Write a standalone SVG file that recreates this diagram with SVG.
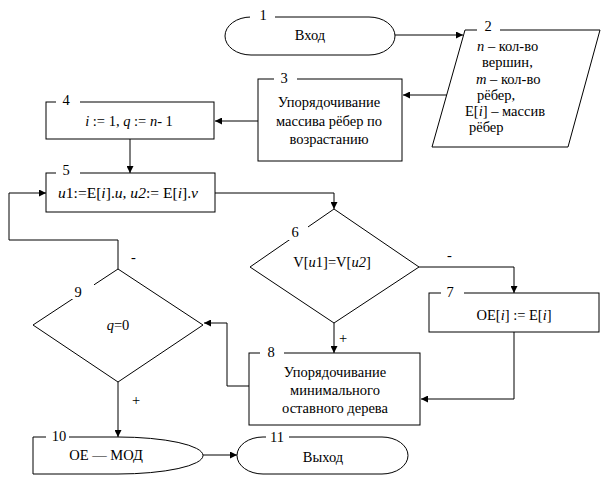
<svg xmlns="http://www.w3.org/2000/svg" width="613" height="491" viewBox="0 0 613 491" font-family="'Liberation Serif', 'Times New Roman', serif" font-size="14.5">
<style>
.s{fill:#fff;stroke:#000;stroke-width:1}
.c{fill:none;stroke:#000;stroke-width:1}
text{fill:#000}
.m{text-anchor:middle}
.bg{fill:#fff;stroke:none}
</style>
<defs>
<marker id="a" viewBox="0 0 10 10" refX="10" refY="5" markerWidth="9" markerHeight="7" markerUnits="userSpaceOnUse" orient="auto"><path d="M0,0L10,5L0,10z" fill="#000"/></marker>
</defs>
<rect width="613" height="491" fill="#fff"/>
<g id="connectors">
<path class="c" d="M395,35H463" marker-end="url(#a)"/>
<path class="c" d="M447,95H403" marker-end="url(#a)"/>
<path class="c" d="M258,121H215" marker-end="url(#a)"/>
<path class="c" d="M130,139V173" marker-end="url(#a)"/>
<path class="c" d="M215,193H334V209" marker-end="url(#a)"/>
<path class="c" d="M419,267H514V293" marker-end="url(#a)"/>
<path class="c" d="M334,323V353" marker-end="url(#a)"/>
<path class="c" d="M514,332V399H421" marker-end="url(#a)"/>
<path class="c" d="M249,386H227V323H204" marker-end="url(#a)"/>
<path class="c" d="M118,269V240H9V193H46" marker-end="url(#a)"/>
<path class="c" d="M118,382V437" marker-end="url(#a)"/>
<path class="c" d="M203,455H237" marker-end="url(#a)"/>
<text x="447" y="260">-</text>
<text x="339" y="343">+</text>
<text x="131" y="262">-</text>
<text x="132" y="405">+</text>
</g>
<g id="n1">
<rect class="s" x="225" y="17" width="170" height="38" rx="26" ry="19"/>
<rect class="bg" x="250" y="12" width="25" height="10"/>
<text x="263" y="20" class="m">1</text>
<text x="310" y="40" class="m">Вход</text>
</g>
<g id="n2">
<polygon class="s" points="465,30 600,30 568,147 432,147"/>
<rect class="bg" x="477" y="25" width="23" height="10"/>
<text x="488" y="31" class="m">2</text>
<text x="477" y="51"><tspan font-style="italic">n</tspan> – кол-во</text>
<text x="482" y="67">вершин,</text>
<text x="476" y="84"><tspan font-style="italic">m</tspan> – кол-во</text>
<text x="477" y="100">рёбер,</text>
<text x="465" y="116">E[<tspan font-style="italic">i</tspan>] – массив</text>
<text x="469" y="132">рёбер</text>
</g>
<g id="n3">
<rect class="s" x="258" y="79" width="144" height="82"/>
<rect class="bg" x="274" y="74" width="23" height="10"/>
<text x="284" y="83" class="m">3</text>
<text x="329" y="107" class="m">Упорядочивание</text>
<text x="329" y="126" class="m">массива рёбер по</text>
<text x="329" y="144" class="m">возрастанию</text>
</g>
<g id="n4">
<rect class="s" x="46" y="102" width="168" height="37"/>
<rect class="bg" x="56" y="97" width="24" height="10"/>
<text x="66" y="105" class="m">4</text>
<text x="129" y="126" class="m"><tspan font-style="italic">i</tspan> := 1, <tspan font-style="italic">q</tspan> := <tspan font-style="italic">n</tspan>- 1</text>
</g>
<g id="n5">
<rect class="s" x="46" y="173" width="169" height="39"/>
<rect class="bg" x="56" y="168" width="24" height="10"/>
<text x="66" y="175" class="m">5</text>
<text x="58" y="198" textLength="140" lengthAdjust="spacingAndGlyphs"><tspan font-style="italic">u</tspan>1:=E[<tspan font-style="italic">i</tspan>].<tspan font-style="italic">u</tspan>, <tspan font-style="italic">u2</tspan>:= E[<tspan font-style="italic">i</tspan>].<tspan font-style="italic">v</tspan></text>
</g>
<g id="n6">
<polygon class="s" points="334,209 419,267 334,323 250,267"/>
<rect class="bg" x="286" y="225" width="22" height="15"/>
<text x="295" y="237" class="m">6</text>
<text x="332" y="267" class="m">V[<tspan font-style="italic">u</tspan>1]=V[<tspan font-style="italic">u2</tspan>]</text>
</g>
<g id="n7">
<rect class="s" x="429" y="293" width="170" height="39"/>
<rect class="bg" x="441" y="288" width="23" height="10"/>
<text x="450" y="297" class="m">7</text>
<text x="514" y="320" class="m">OE[<tspan font-style="italic">i</tspan>] := E[<tspan font-style="italic">i</tspan>]</text>
</g>
<g id="n8">
<rect class="s" x="249" y="353" width="171" height="72"/>
<rect class="bg" x="260" y="348" width="24" height="10"/>
<text x="271" y="357" class="m">8</text>
<text x="335" y="377" class="m">Упорядочивание</text>
<text x="335" y="395" class="m">минимального</text>
<text x="335" y="413" class="m">оставного дерева</text>
</g>
<g id="n9">
<polygon class="s" points="118,269 203,325 118,382 33,325"/>
<rect class="bg" x="70" y="284" width="24" height="15"/>
<text x="78" y="297" class="m">9</text>
<text x="118" y="330" class="m"><tspan font-style="italic">q</tspan>=0</text>
</g>
<g id="n10">
<path class="s" d="M33,437H118A85,18.5 0 0 1 118,474H33Z"/>
<rect class="bg" x="46" y="432" width="23" height="10"/>
<text x="59" y="441" class="m">10</text>
<text x="106" y="460" class="m">ОЕ — МОД</text>
</g>
<g id="n11">
<rect class="s" x="237" y="437" width="171" height="37" rx="26" ry="18.5"/>
<rect class="bg" x="266" y="432" width="23" height="10"/>
<text x="277" y="442" class="m">11</text>
<text x="323" y="462" class="m">Выход</text>
</g>
</svg>
